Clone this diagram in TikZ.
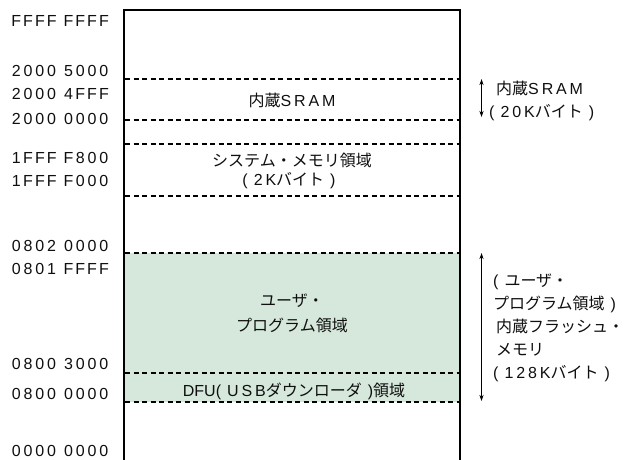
\documentclass[tikz,border=0pt]{standalone}
\usepackage{fontspec}
\setmainfont{Noto Sans CJK JP}
\newfontfamily\addrfont{Liberation Sans}
\newfontfamily\latfont[LetterSpace=18]{Liberation Sans}
\newfontfamily\parfont{Liberation Sans}
\newcommand{\lt}[1]{{\latfont #1}}
\newcommand{\op}{{\parfont(}\hspace{6pt}}
\newcommand{\cp}{\hspace{6pt}{\parfont)}}
\makeatletter
\newcommand{\monochars}[1]{\@tfor\mc:=#1\do{\makebox[11.8pt]{\mc}}}
\makeatother
\newcommand{\ad}[2]{\monochars{#1}\hspace{5pt}\monochars{#2}}
\usetikzlibrary{arrows.meta}
\definecolor{flashgreen}{RGB}{213,232,219}
\definecolor{txt}{RGB}{15,15,15}
\begin{document}
\begin{tikzpicture}[x=1pt,y=-1pt,
  addr/.style={anchor=east,font=\addrfont\fontsize{16}{16}\selectfont,text=txt,inner sep=0pt},
  lbl/.style={font=\fontsize{16}{16}\selectfont,text=txt,inner sep=0pt,align=center},
  rlbl/.style={font=\fontsize{16}{23}\selectfont,text=txt,inner sep=0pt,align=left,anchor=west},
  sep/.style={dashed,dash pattern=on 5pt off 3.5pt,line width=1.1pt},
  wall/.style={line width=1.6pt,black},
  rng/.style={line width=0.8pt,{Stealth[length=6pt,width=4pt]}-{Stealth[length=6pt,width=4pt]}}]
\useasboundingbox (0,0) rectangle (634,459);
% fill
\fill[flashgreen] (124,253) rectangle (460,402);
% dashed separators
\foreach \yy in {79,120,144,196,253,373,402}
  \draw[sep] (125,\yy) -- (459,\yy);
% box
\draw[wall] (124,470) -- (124,10) -- (460,10) -- (460,470);
% address labels
\node[addr] (a1) at (110,21) {\ad{FFFF}{FFFF}};
\node[addr] (a2) at (110,71) {\ad{2000}{5000}};
\node[addr] (a3) at (110,94) {\ad{2000}{4FFF}};
\node[addr] (a4) at (110,119) {\ad{2000}{0000}};
\node[addr] (a5) at (110,158) {\ad{1FFF}{F800}};
\node[addr] (a6) at (110,181) {\ad{1FFF}{F000}};
\node[addr] (a7) at (110,246) {\ad{0802}{0000}};
\node[addr] (a8) at (110,269) {\ad{0801}{FFFF}};
\node[addr] (a9) at (110,364) {\ad{0800}{3000}};
\node[addr] (a10) at (110,394) {\ad{0800}{0000}};
\node[addr] (a11) at (110,451) {\ad{0000}{0000}};
% region labels
\node[lbl] (sram) at (292,100) {内蔵\lt{SRAM}};
\node[lbl] (sys1) at (292,160) {システム・メモリ領域};
\node[lbl] (sys2) at (289,181) {\op\lt{2K}バイト\cp};
\node[lbl] (usr1) at (292,301) {ユーザ・};
\node[lbl] (usr2) at (292,325) {プログラム領域};
\node[lbl] (dfu) at (294,391) {{\parfont DFU(}\hspace{6pt}\lt{USB}ダウンローダ\cp 領域};
% right side
\coordinate (s1) at (481.5,79);
\coordinate (s2) at (481.5,117);
\draw[rng] (s1) -- (s2);
\node[rlbl] (rs) at (489,101) {\hspace{7pt}内蔵\lt{SRAM}\\\op\lt{20K}バイト\cp};
\coordinate (f1) at (481.5,253);
\coordinate (f2) at (481.5,401);
\draw[rng] (f1) -- (f2);
\node[rlbl] (rf) at (493,328) {\op ユーザ・\\プログラム領域\cp\\\hspace{3pt}内蔵フラッシュ・\\\hspace{3pt}メモリ\\\op\lt{128K}バイト\cp};
\end{tikzpicture}
\end{document}
